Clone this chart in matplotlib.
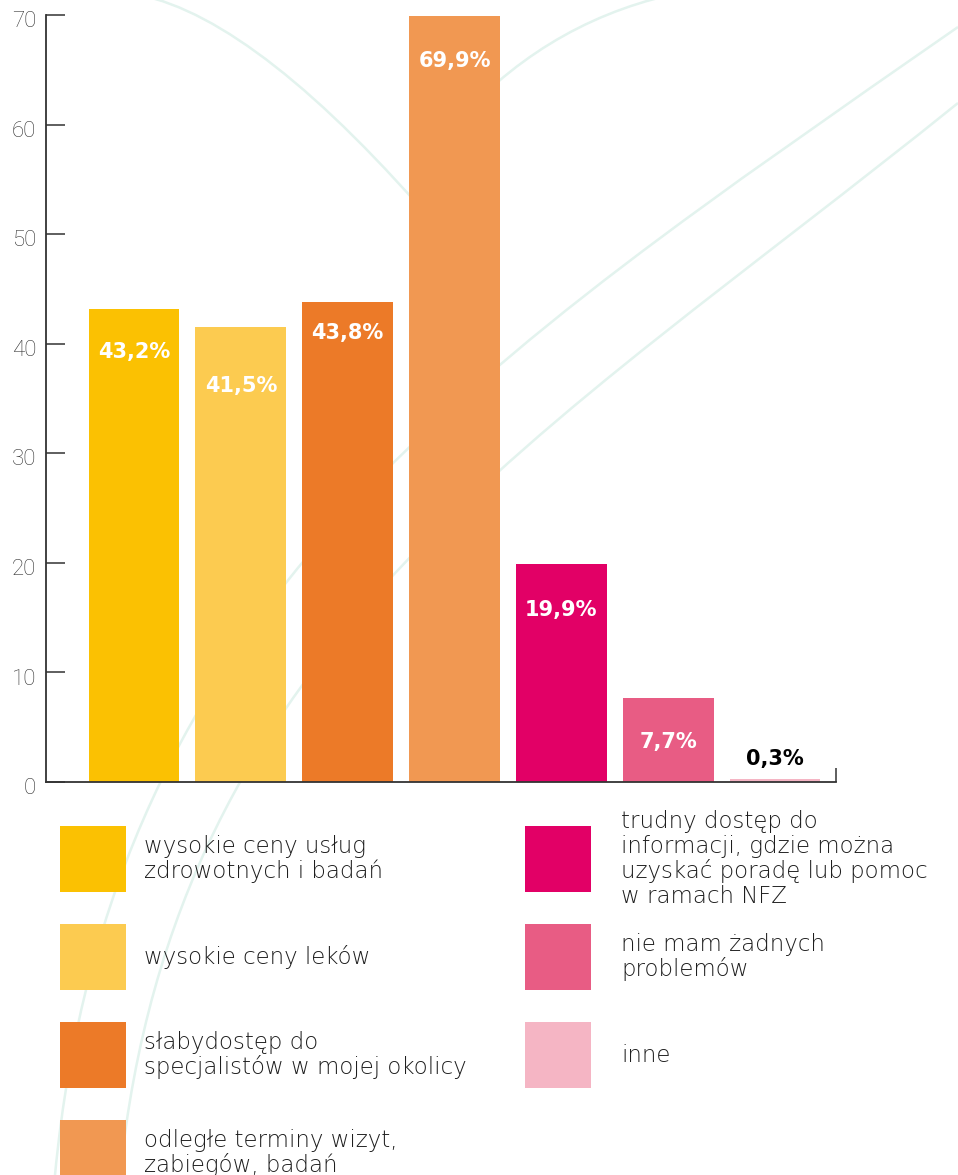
import matplotlib
matplotlib.use("Agg")
from matplotlib import pyplot as plt
from matplotlib.path import Path
from matplotlib.patches import PathPatch, Rectangle
from matplotlib.transforms import ScaledTranslation

# Survey answers, in the order of the bars
categories = [
    "wysokie ceny usług\nzdrowotnych i badań",
    "wysokie ceny leków",
    "słabydostęp do\nspecjalistów w mojej okolicy",
    "odległe terminy wizyt,\nzabiegów, badań",
    "trudny dostęp do\ninformacji, gdzie można\nuzyskać poradę lub pomoc\nw ramach NFZ",
    "nie mam żadnych\nproblemów",
    "inne",
]
shares = [43.2, 41.5, 43.8, 69.9, 19.9, 7.7, 0.3]
colors = ["#FBC102", "#FCCB50", "#EC7A28", "#F19852", "#E20066", "#E85C84", "#F5B5C4"]
yticks = [0, 10, 20, 30, 40, 50, 60, 70]

# label placement (points, relative to bar top) and colour
label_offsets = [-31, -42, -22, -32, -33, -32, 14]
label_colors = ["white"] * 6 + ["black"]

W, H = 958, 1175
fig = plt.figure(figsize=(W / 100, H / 100), dpi=100)

# decorative background swooshes, in pixel coordinates
bg = fig.add_axes([0, 0, 1, 1], zorder=0)
bg.set_xlim(0, W)
bg.set_ylim(H, 0)
bg.axis("off")

swoosh_color = "#E3F3EE"
swooshes = [
    [(55, 1175), (110, 600), (480, 360), (958, 27)],
    [(120, 1175), (175, 640), (540, 440), (958, 103)],
]
for pts in swooshes:
    path = Path(pts, [Path.MOVETO, Path.CURVE4, Path.CURVE4, Path.CURVE4])
    bg.add_patch(PathPatch(path, facecolor="none", edgecolor=swoosh_color, lw=1.8, zorder=1))
for pts in [[(140, -5), (260, 20), (440, 230)], [(450, 130), (540, 25), (670, -5)]]:
    path = Path(pts, [Path.MOVETO, Path.CURVE3, Path.CURVE3])
    bg.add_patch(PathPatch(path, facecolor="none", edgecolor=swoosh_color, lw=1.8, zorder=1))

# legend drawn by hand: two columns, four rows
for i, (name, color) in enumerate(zip(categories, colors)):
    col, row = divmod(i, 4)
    x0 = [60, 525][col]
    y0 = 826 + row * 98
    bg.add_patch(Rectangle((x0, y0), 66, 66, facecolor=color, edgecolor="none", zorder=3))
    bg.text([144, 621][col], y0 + 33, name, va="center", ha="left",
            fontsize=16.5, family="DejaVu Sans", weight="light",
            color="#1E1E1E", linespacing=1.08, zorder=4)

# the bar chart itself
ax = fig.add_axes([46 / W, 393 / H, 790 / W, 767 / H], zorder=2)
ax.set_facecolor("none")
x = list(range(len(shares)))
bars = ax.bar(x, shares, width=0.85, color=colors, zorder=2)

ax.set_xlim(-0.824, 6.571)
ax.set_ylim(0, 70)

for side in ["top", "right"]:
    ax.spines[side].set_visible(False)
for side in ["left", "bottom"]:
    ax.spines[side].set_color("#333333")
    ax.spines[side].set_linewidth(1.3)

ax.set_yticks(yticks)
ax.tick_params(axis="y", direction="in", length=14, width=1.1, color="#333333",
               labelcolor="#333333", labelsize=16, pad=7)
for lab in ax.get_yticklabels():
    lab.set_family("Roboto")
    lab.set_weight("light")
    lab.set_transform(lab.get_transform() + ScaledTranslation(0, -3 / 72, fig.dpi_scale_trans))

ax.set_xticks([6.571])
ax.set_xticklabels([])
ax.tick_params(axis="x", direction="in", length=10, width=1.1, color="#333333")

for rect, value, dy, lc in zip(bars, shares, label_offsets, label_colors):
    text = f"{value:.1f}%".replace(".", ",")
    ax.annotate(text, (rect.get_x() + rect.get_width() / 2, value),
                xytext=(0, dy), textcoords="offset points",
                ha="center", va="center", fontsize=15, weight="bold",
                color=lc, zorder=3)

fig.savefig("out.png", dpi=100)
